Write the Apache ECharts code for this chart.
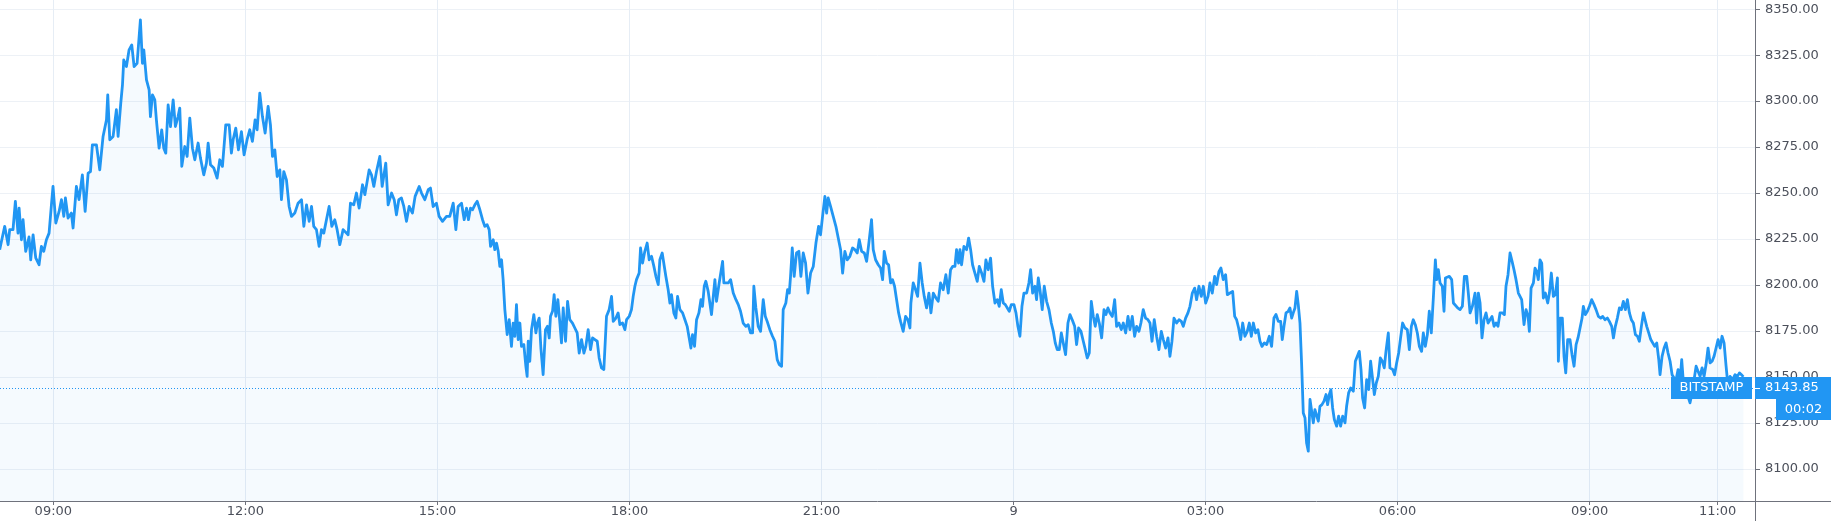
<!DOCTYPE html>
<html><head><meta charset="utf-8">
<script src="https://cdn.jsdelivr.net/npm/echarts/dist/echarts.min.js"></script>
<style>html,body{margin:0;padding:0;background:#fff}#c{width:1831px;height:521px}</style>
</head><body><div id="c"></div>
<script>
// minutes after 09:00 on day 1
const times = [
-50.3,-45.6,-42.4,-40.9,-37.8,-35.6,-33.1,-32.1,-29.9,-28.4,
-25.9,-22.8,-21.2,-19,-16.5,-13.4,-11.2,-9,-6.5,-4,
-1.8,-0.3,2.3,5.4,7.6,9.8,11.3,13.8,16.9,18.5,
21.6,24.1,27.2,29.8,32.6,34.8,36.6,40.4,43.5,46.6,
49.8,51,52.9,56,59.1,60.7,63.2,64.8,66,68.5,
71,73.5,75.7,78.5,81.6,83.5,84.8,87.3,89.8,91,
92.9,95.1,96.6,99.1,101.6,103.5,105.4,107.6,109.8,112.3,
114.4,116.9,118.5,120.4,123.2,125.4,127.9,130.4,132.6,135.7,
137.9,141,143.5,145.1,147.3,150.4,153.5,156,158.5,161.6,
164.8,166.9,168.5,171,173.5,176.3,178.8,181.6,184.1,186.6,
189.1,191,193.5,196,198.5,201.3,203.5,205.4,207.6,209.8,
212.3,213.8,216,218.5,221,223.2,226.3,229.4,232.6,234.8,
237.3,239.8,242,244.1,246.6,249.1,251.3,253.5,256,258.5,
261,263.8,266,268.5,271.6,276.3,278.5,281.6,284.1,286.6,
289.8,292,293.5,296,298.2,300.4,302.9,306,308.2,311.6,
313.8,317,319.5,321.6,323.8,326.3,328.5,331,333.5,336.6,
339.1,342.9,345.1,348.2,351.4,353.5,356,359.1,361.6,364.8,
368.5,
371.6,374.8,377.3,379.4,382.6,385.1,387.3,389.1,391,392.9,
395.1,397.3,399.8,402.3,404.4,406.6,408.5,409.8,412.3,413.8,
415.4,417,418.5,420.1,421.6,423.2,425.4,427.3,429.4,431,
432.6,434.1,435.7,437.3,438.8,441,442.9,444.1,445.1,446.6,
448.2,450.4,452.3,453.8,455.4,457,459.1,461.3,463.2,464.8,
466,467.9,469.4,471,472.9,474.8,476.3,477.9,480.1,482,
484.1,486.6,488.8,491,492.9,495.1,497.3,499.1,501.3,503.5,
505.4,507.6,509.8,511.6,513.8,516,518.5,521,523.2,524.8,
527.3,529.4,531,533.5,535.7,537.3,539.8,541.9,543.5,545.1,
546.6,549.1,550.4,552.3,554.4,556.6,558.5,560.7,562.9,564.8,
567,568.5,570.7,572.3,574.1,576.3,577.9,579.4,581.6,583.5,
585.1,587.3,589.8,592,594.1,596,597.6,599.1,601,602.9,
605.1,607,608.5,610.1,611.6,612.3,613.8,616.9,620.1,621.6,
624.1,627.3,628.5,632.6,634.8,637.3,639.8,642,644.1,646.6,
649.1,651.3,653.5,655.4,656.6,658.5,660.7,662.9,665.4,667.3,
669.1,671.6,674.1,676.3,678.5,680.4,682.6,684.1,686.6,688.2,
689.8,691,692.6,694.4,696.6,698.8,700.7,702.9,705.1,707.3,
709.8,712.3,714.8,717.3,719.1,721,723.2,724.8,726.3,728.5,
731,733.5,735.7,737.9,739.8,741.9,744.1,
746.6,749.1,751.3,753.5,755.4,757.6,760.1,762.3,764.4,766.9,
768.5,770.7,773.2,775.4,777.3,778.8,781,782.9,784.8,786.6,
788.5,790.4,792.3,794.1,796.6,798.8,801,802.9,803.8,806,
808.2,810.1,812.3,814.4,816.3,818.5,820.7,822.6,824.8,827.3,
829.4,831.6,834.1,836.6,838.8,841,842.9,845.1,846.6,848.5,
849.8,851.3,853.5,856,857.9,859.8,861.6,863.8,866,867.9,
870.1,872.3,874.1,876.3,878.5,880.4,882.6,884.8,886.6,888.5,
890.4,892.3,894.1,896,897.9,900.4,902.3,904.1,906,907.9,
909.8,912.3,914.4,916,917.9,920.1,921.6,923.2,924.8,926.9,
928.8,931,933.2,935.4,937.3,939.1,941,942.9,944.8,946.6,
948.8,951,952.9,955,957.3,959.1,961,963.2,965.4,967.3,
969.1,971,972.9,974.8,976.6,978.5,980.4,982.6,984.8,986.6,
988.5,990.4,992.6,994.8,996.6,998.8,1001,1002.9,1005.1,1007.3,
1009.1,1011.3,1013.5,1015.4,1017.6,1019.4,1021.6,1023.8,1026,1027.9,
1029.8,1031.9,1034.1,1036.3,1038.5,1040.4,1042.6,1044.8,1046.6,1048.5,
1050.4,1052.9,1055.1,1057.3,1059.1,1061.3,1063.5,1065.4,1067.6,1069.8,
1071.6,1073.8,1076,1077.9,1080.1,1082.3,1084.1,1086.3,1088.5,1090.4,
1092.6,1094.4,1096.6,1098.8,1100.4,1102.9,1105.4,1107.3,1109.1,1111,
1112.9,1114.8,1116.9,1119.1,1121,1122.9,1124.8,1126.9,1129.1,1131,
1132.9,1135.1,1137.3,1139.8,
1141.9,1144.1,1146,1148.2,1150.4,1151.9,1153.5,1155.4,1157.5,1159.1,
1160.7,1162.2,1163.8,1165.4,1166.9,1168.5,1170,1171.6,1173.2,1174.7,
1176.3,1177.9,1179.4,1181,1182.5,1184.1,1185.7,1187.2,1189.1,1191,
1192.9,1194.4,1196,1197.5,1199.1,1200.7,1202.9,1204.7,1206.6,1208.5,
1210.7,1212.2,1214.1,1216,1218.5,1220.4,1222.2,1224.1,1225.7,1227.2,
1229.1,1231,1232.9,1234.7,1236.3,1238.2,1240,1241.9,1243.8,1245.7,
1247.5,1249.1,1251.3,1252.8,1255.4,1257.2,1259.1,1261,1262.8,1264.7,
1266.9,1269.1,1271,1272.9,1274.7,1276.6,1278.5,1280.4,1282.5,1284.1,
1286,1287.9,1289.7,1291.6,1293.5,
1295.4,1296.6,1298.2,1299.8,1301.9,1303.5,1304.8,1306.6,1308.5,1310.7,
1312.3,1313.8,1316.3,1318.5,1320.7,1322.6,1324.8,1326.3,1327.9,1330.1,
1332.6,1334.1,1335.7,1337.3,1339.1,1341,1342.9,1344.8,1346.6,1348.5,
1350.4,1352.3,1354.1,1356,1358.2,1360.1,1361.6,1363.5,1365.4,1367.3,
1369.1,1371,1373.2,
1376.3,1378.5,1380.4,1382.3,1383.5,1385.1,1387.3,1388.8,1390.4,1391.9,
1393.5,1395.1,1396.6,1398.5,1400.7,1402.3,1404.1,1406,1407.9,1409.8,
1410.7,1412.3,1414.4,1416,1417.6,1419.4,1421.6,1423.5,1425.4,1427.3,
1429.1,1431,1432.9,1434.1,1436,1437.9,1439.8,1441.9,1444.1,1446,
1448.2,1450.4,1452.3,1454.4,1456.6,1458.5,1460.7,1462.3,1464.1,1466,
1467.9,1469.8,1471.6,1473.5,1475.4,1477.3,1479.1,1481,1482.9,1484.8,
1486.6,1488.5,1490.4,1491.9,1493.5,1495.4,1497.3,1499.1,1501,1502.9,
1504.8,1506,1507.9,1509.8,1511.6,1513.5,1515.4,1517.3,1519.1,1521,
1522.9,1524.8,1526.3,1527.9,1529.4,1531,1532.6,1534.1,1536,1537.9,
1539.8,1541.6,1543.5,1545.4,1547.3,1549.1,1551,1552.9,1554.8,1556.6,
1558.5,1560.4,1562.3,1564.1,1566,1567.9,1569.4,1571.6,1574.1,1576.3,
1578.5,1580.4,1582.3,1584.1
];
const prices = [
8219.2,8231.9,8221.9,8230.1,8230.1,8245.5,8228.2,8241.8,8224.6,8235.5,
8218.3,8226.1,8213.7,8227.3,8214.7,8211,8221,8218.3,8224.6,8228.2,
8243.6,8253.6,8233.7,8240,8246.4,8237.3,8247.3,8236.4,8239.1,8231,
8253.6,8246.4,8259.9,8240,8260.8,8261.7,8276.2,8276.2,8262.6,8280.8,
8289.8,8303.4,8279,8280.8,8295.3,8280.8,8298.9,8308.9,8322.4,8318.8,
8327.9,8330.6,8318.8,8320.6,8344.2,8320.6,8327.9,8311.6,8306.1,8291.6,
8303.4,8300.7,8289.8,8274.4,8284.4,8274.4,8271.7,8298,8286.2,8300.7,
8286.2,8291.6,8296.2,8264.5,8275.3,8269.9,8290.7,8274.4,8268.1,8277.2,
8269,8259.9,8266.3,8277.2,8265.4,8263.6,8258.1,8268.1,8264.5,8287.1,
8287.1,8271.7,8279,8285.3,8273.5,8283.4,8270.8,8279,8284.4,8278.1,
8289.8,8284.4,8304.3,8291.6,8282.6,8297.1,8287.1,8269.9,8273.5,8259,
8262.6,8246.4,8261.7,8257.2,8242.7,8237.3,8239.1,8244.5,8246.4,8231.9,
8243.6,8234.6,8242.7,8231.9,8230.1,8221,8230.1,8228.2,8235.5,8242.7,
8231.9,8235.5,8230.1,8221.9,8230.1,8227.3,8244.5,8243.6,8250,8241.8,
8254.5,8249.1,8250,8262.6,8259.9,8253.6,8261.7,8269.9,8253.6,8266.3,
8243.6,8250,8246.4,8238.2,8246.4,8247.3,8242.7,8234.6,8242.7,8239.1,
8248.2,8253.6,8250,8246.4,8251.8,8252.7,8242.7,8244.5,8237.3,8234.6,
8237.3,
8237.3,8244.5,8230.1,8242.7,8244.5,8235.5,8241.8,8235.5,8241.8,8240.9,
8243.6,8245.5,8240.9,8235.5,8231.9,8232.8,8230.1,8221,8224.6,8219.2,
8222.8,8218.3,8210.1,8213.7,8202.9,8186.6,8173,8181.1,8166.6,8179.3,
8172.1,8189.3,8170.3,8179.3,8166.6,8167.6,8155.8,8150.3,8169.4,8158.5,
8175.7,8183.9,8173.9,8179.3,8182,8165.7,8151.3,8175.7,8177.5,8171.2,
8183,8185.7,8194.7,8183,8192,8179.3,8168.5,8187.5,8169.4,8191.1,
8181.1,8179.3,8176.6,8173.9,8163,8170.3,8163,8166.6,8175.7,8164.8,
8171.2,8170.3,8169.4,8160.3,8154.9,8154,8183,8186.6,8193.8,8180.2,
8182,8184.8,8178.5,8179.3,8175.7,8181.1,8183,8186.6,8193.8,8199.3,
8202.9,8206.5,8220.1,8211.9,8218.3,8222.8,8213.7,8215.6,8210.1,8204.7,
8200.2,8213.7,8217.4,8218.3,8204.7,8197.4,8190.2,8194.7,8184.8,8182,
8193.8,8186.6,8184.8,8181.1,8177.5,8171.2,8165.7,8173,8166.6,8181.1,
8184.8,8192,8188.4,8199.3,8202,8201.1,8196.5,8183.9,8202.9,8191.1,
8201.1,8212.8,8201.1,8201.1,8202.9,8195.6,8192,8189.3,8185.7,8179.3,
8177.5,8178.4,8173.9,8173.9,8199.3,8187.5,8177.5,8174.8,8192,8183,
8180.2,8175.7,8172.1,8169.4,8159.4,8156.7,8155.8,8186.6,8190.2,8197.4,
8195.6,8204.7,8220.1,8204.7,8217.4,8218.3,8204.7,8217.4,8211.9,8195.6,
8206.5,8210.1,8222.8,8231.9,8227.3,8237.3,8248.2,8239.1,8247.3,8242.7,
8237.3,8231.9,8225.5,8219.2,8206.5,8218.3,8213.7,
8215.6,8220.1,8219.2,8217.4,8224.6,8218.3,8217.4,8212.8,8222.8,8235.5,
8219.2,8213.7,8211,8209.2,8202.9,8218.3,8211.9,8211,8201.1,8202.9,
8199.3,8192,8184.8,8180.2,8174.8,8182.9,8181.1,8176.6,8190.2,8201.1,
8197.4,8193.8,8211.9,8201.1,8193.8,8187.5,8195.6,8184.8,8195.6,8192.9,
8191.1,8201.1,8197.4,8205.6,8195.6,8208.3,8210.1,8210.1,8219.2,8211.9,
8219.2,8211,8221,8219.2,8225.5,8219.2,8211,8206.5,8202,8210.1,
8206.5,8202,8213.7,8208.3,8214.6,8199.3,8190.2,8192,8188.4,8197.4,
8190.2,8189.3,8188.4,8185.7,8189.3,8189.3,8184.8,8177.5,8172.1,8188.4,
8195.6,8195.6,8201.1,8208.3,8195.6,8199.3,8192,8203.8,8197.4,8186.6,
8199.3,8191.1,8186.6,8179.3,8174.8,8168.5,8164.8,8164.8,8173.9,8168.5,
8162.1,8179.3,8183.9,8181.1,8177.5,8167.6,8176.6,8174.8,8169.4,8164.8,
8160.3,8163,8191.1,8182.9,8177.5,8183.9,8179.3,8171.2,8186.6,8183.9,
8187.5,8184.8,8182.9,8192,8177.5,8179.3,8175.7,8179.3,8173.9,8182.9,
8175.7,8182.9,8172.1,8177.5,8174.8,8179.3,8186.6,8182,8181.1,8179.3,
8169.4,8181.1,8172.1,8164.8,8174.8,8170.3,8165.7,8171.2,8161.2,8169.4,
8182,8179.3,8181.1,8180.2,8177.5,8182,8184.8,8188.4,8195.6,8198.3,
8192,8199.3,8193.8,8199.3,8190.2,8193.8,8201.1,8195.6,8204.7,8200.2,
8207.4,8209.2,8202.9,8205.6,8194.7,8195.6,8196.5,8182.9,8181.1,8176.6,
8170.3,8179.3,8172.1,8174.8,8179.3,8172.1,8179.3,8173.9,8175.7,8169.4,
8166.6,8168.5,8167.6,8172.1,
8166.6,8182,8183.9,8180.2,8180.2,8170.3,8177.5,8184.8,8185.7,8187.5,
8182,8184.8,8187.5,8196.5,8189.3,8179.3,8157.6,8130.4,8127.7,8114.1,
8109.6,8137.7,8136.8,8125,8132.2,8133.1,8125.9,8134,8134.9,8136.8,
8140.4,8134.9,8140.4,8143.1,8133.1,8126.8,8123.2,8128.6,8123.2,8128.6,
8125,8134,8141.3,8144,8142.2,8158.5,8159.4,8163.9,8154,8138.6,
8133.1,8148.5,8143.1,8158.5,8159.4,8140.4,8146.7,8150.3,8160.3,8158.5,
8154.9,8163.9,8173.9,8154.9,8154,8151.2,8157.6,8163,8171.2,8179.3,
8176.6,8175.7,8164.8,8177.5,8181.1,8178.4,8173.9,8166.6,8163.9,8173.9,
8166.6,8173,8185.7,8173.9,8192.9,
8213.7,8202.9,8208.3,8201.1,8199.3,8185.7,8203.8,8202.9,8204.7,8202.9,
8190.2,8189.3,8187.5,8186.6,8188.4,8204.7,8204.7,8195.6,8184.8,8188.4,
8195.6,8179.3,8195.6,8190.2,8171.2,8181.1,8184.8,8179.3,8181.1,8182.9,
8177.5,8179.3,8177.5,8184.8,8184.8,8183.9,8199.3,8205.6,8217.4,8212.8,
8208.3,8202.9,8195.6,
8192,8178.4,8186.6,8182.9,8174.8,8198.3,8201.1,8209.2,8207.4,8202.9,
8213.7,8211.9,8192.9,8195.6,8190.2,8195.6,8206.5,8193.8,8194.7,8203.8,
8158.5,8182,8182,8161.2,8152.2,8170.3,8170.3,8162.1,8155.8,8167.6,
8171.2,8176.6,8182,8188.4,8183.9,8185.7,8188.4,8192,8189.3,8186.6,
8182.9,8182,8182.9,8181.1,8182,8180.2,8177.5,8171.2,8177.5,8182,
8187.5,8186.6,8191.1,8186.6,8192,8184.8,8181.1,8179.3,8173,8172.1,
8169.4,8177.5,8184.8,8184.8,8177.5,8173.9,8170.3,8169.4,8166.6,8168.5,
8159.4,8151.2,8161.2,8165.7,8168.5,8163,8158.5,8151.2,8149.4,8148.5,
8154,8148.5,8159.4,8146.7,8141.3,8144,8138.6,8135.9,8141.3,8148.5,
8155.8,8153.1,8150.3,8154.9,8150.3,8156.7,8165.7,8157.6,8158.5,8161.2,
8165.7,8170.3,8165.7,8172.1,8168.5,8155.8,8146.7,8150.3,8148.5,8151.2,
8150.3,8152.2,8151.2,8150
];
const tickMinutes = [0,180,360,540,720,900,1080,1260,1440,1560];
const tickLabels = ['09:00','12:00','15:00','18:00','21:00','9','03:00','06:00','09:00','11:00'];
const priceTicks = [8100,8125,8150,8175,8200,8225,8250,8275,8300,8325,8350];
const lastPrice = 8143.85;
const exchangeName = 'BITSTAMP';
const countdown = '00:02';

const W = 1831, H = 521;
const FONT = '"DejaVu Sans", sans-serif';
const axisColor = '#6f727c';
const textColor = '#4c505b';
const blue = '#2196f3';
const tickLookup = {};
tickMinutes.forEach((m, i) => { tickLookup[m] = tickLabels[i]; });
const data = times.map((t, i) => [t, prices[i]]);

const chart = echarts.init(document.getElementById('c'), null, {renderer: 'canvas'});
chart.setOption({
  animation: false,
  backgroundColor: '#ffffff',
  grid: {left: 0, right: 76, top: 0, bottom: 20, containLabel: false},
  xAxis: {
    type: 'value', min: -50, max: 1595,
    axisLine: {show: true, onZero: false, lineStyle: {color: axisColor, width: 1}},
    axisTick: {show: true, length: 4, customValues: tickMinutes, lineStyle: {color: axisColor}},
    axisLabel: {customValues: tickMinutes, formatter: v => tickLookup[v] || '', color: textColor,
      fontSize: 13, fontFamily: FONT, margin: 4},
    splitLine: {show: true, lineStyle: {color: '#e6edf5', width: 1}}
  },
  yAxis: {
    type: 'value', position: 'right', min: 8082.5, max: 8355,
    axisLine: {show: true, onZero: false, lineStyle: {color: axisColor, width: 1}},
    axisTick: {show: true, length: 5, customValues: priceTicks, lineStyle: {color: axisColor}},
    axisLabel: {customValues: priceTicks, formatter: v => Number(v).toFixed(2), color: textColor,
      fontSize: 13, fontFamily: FONT, margin: 10},
    splitLine: {show: true, lineStyle: {color: '#edf1f6', width: 1}}
  },
  series: [{
    type: 'line', data: data, showSymbol: false, symbol: 'none', z: 3,
    lineStyle: {color: blue, width: 2.8, join: 'round'},
    areaStyle: {color: 'rgba(33,150,243,0.06)', origin: 'start'},
    markLine: {
      silent: true, symbol: 'none', label: {show: false},
      lineStyle: {color: blue, type: [1, 2], width: 1},
      data: [{yAxis: lastPrice}]
    }
  }]
});

const py = chart.convertToPixel({yAxisIndex: 0}, lastPrice);
const ax = chart.convertToPixel({xAxisIndex: 0}, 1595);
const gb = chart.convertToPixel({yAxisIndex: 0}, 8082.5);
chart.setOption({
  graphic: [
    {type: 'line', z: 100, shape: {x1: ax + 0.5, y1: gb, x2: ax + 0.5, y2: H}, style: {stroke: axisColor, lineWidth: 1}},
    {type: 'line', z: 100, shape: {x1: ax, y1: gb + 0.5, x2: W, y2: gb + 0.5}, style: {stroke: axisColor, lineWidth: 1}},
    {type: 'rect', z: 100, shape: {x: ax - 84, y: Math.round(py) - 11, width: 81, height: 22}, style: {fill: blue}},
    {type: 'text', z: 101, x: ax - 43.5, y: Math.round(py), style: {text: exchangeName, fill: '#fff', font: '13px ' + FONT, align: 'center', verticalAlign: 'middle'}},
    {type: 'rect', z: 100, shape: {x: ax, y: Math.round(py) - 11, width: W - ax, height: 22}, style: {fill: blue}},
    {type: 'line', z: 101, shape: {x1: ax, y1: Math.round(py) + 0.5, x2: ax + 5, y2: Math.round(py) + 0.5}, style: {stroke: '#fff', lineWidth: 1}},
    {type: 'text', z: 101, x: ax + 10, y: Math.round(py), style: {text: lastPrice.toFixed(2), fill: '#fff', font: '13px ' + FONT, align: 'left', verticalAlign: 'middle'}},
    {type: 'rect', z: 100, shape: {x: ax + 21, y: Math.round(py) + 11, width: W - ax - 21, height: 21}, style: {fill: blue}},
    {type: 'text', z: 101, x: ax + 21 + (W - ax - 21) / 2, y: Math.round(py) + 21.5, style: {text: countdown, fill: '#fff', font: '13px ' + FONT, align: 'center', verticalAlign: 'middle'}}
  ]
});
</script>
</body></html>
